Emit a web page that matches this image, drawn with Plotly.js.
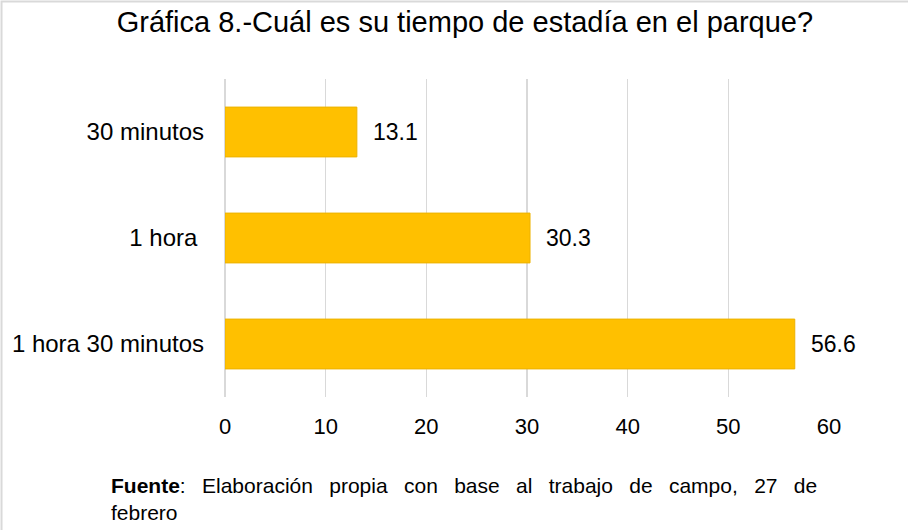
<!DOCTYPE html>
<html>
<head>
<meta charset="utf-8">
<script src="https://cdn.plot.ly/plotly-3.0.1.min.js"></script>
<style>
html,body{margin:0;padding:0;background:#fff;}
#chart{width:908px;height:530px;}
</style>
</head>
<body>
<div id="chart"></div>
<script>
const categories = ["30 minutos", "1 hora ", "1 hora 30 minutos"];
const values = [13.1, 30.3, 56.6];
const valueLabels = ["13.1", "30.3", "56.6"];
const xTicks = [0, 10, 20, 30, 40, 50, 60];
const titleText = "Gráfica 8.-Cuál es su tiempo de estadía en el parque?";
const sourceLine1 = "Elaboración propia con base al trabajo de campo, 27 de";
const sourceLine2 = "febrero";

const FONT = "Liberation Sans, Arial, sans-serif";

// justified-looking first line: widen the gaps between words
const sourceText = "<b>Fuente</b>:\u0020\u2002" + sourceLine1.split(" ").join("\u0020\u2002") + "<br>" + sourceLine2;

const trace = {
  type: "bar",
  orientation: "h",
  x: values,
  y: categories,
  marker: { color: "#FFC000", line: { color: "#EDB200", width: 1 } },
  hoverinfo: "x+y",
  showlegend: false
};

const annotations = values.map((v, i) => ({
  x: v, y: categories[i], xref: "x", yref: "y",
  text: valueLabels[i], showarrow: false,
  xanchor: "left", xshift: 14,
  font: { family: FONT, size: 23, color: "#000" }
}));
annotations.push({
  xref: "paper", yref: "paper", x: -0.192, y: -0.236,
  xanchor: "left", yanchor: "top", align: "left",
  text: sourceText, showarrow: false,
  font: { family: FONT, size: 21, color: "#000" }
});

const layout = {
  width: 908, height: 530,
  margin: { l: 225, r: 79, t: 79, b: 133 },
  paper_bgcolor: "#fff", plot_bgcolor: "#fff",
  font: { family: FONT, color: "#000" },
  title: {
    text: titleText,
    font: { family: FONT, size: 29, color: "#000" },
    x: 0.512, xanchor: "center", xref: "container",
    y: 0.958, yanchor: "middle", yref: "container"
  },
  bargap: 0.53,
  xaxis: {
    range: [0, 60], tickvals: xTicks, ticktext: xTicks.map(String),
    showgrid: true, gridcolor: "#D9D9D9", gridwidth: 1.5,
    zeroline: true, zerolinecolor: "#D9D9D9", zerolinewidth: 1.5,
    showline: false, ticks: "", ticklabelstandoff: 14,
    tickfont: { family: FONT, size: 22, color: "#000" }, fixedrange: true
  },
  yaxis: {
    type: "category", categoryorder: "array", categoryarray: categories,
    autorange: "reversed", showgrid: false, zeroline: false, showline: false,
    ticks: "", ticklabelstandoff: 20,
    tickfont: { family: FONT, size: 24, color: "#000" }, fixedrange: true
  },
  annotations: annotations,
  shapes: [{
    type: "rect", xref: "paper", yref: "paper",
    x0: -0.3700, x1: 1.2, y0: -0.6, y1: 1.2437,
    line: { color: "#D9D9D9", width: 2 }, fillcolor: "rgba(0,0,0,0)", layer: "below"
  }]
};

Plotly.newPlot("chart", [trace], layout, { displayModeBar: false, staticPlot: true });
</script>
</body>
</html>
